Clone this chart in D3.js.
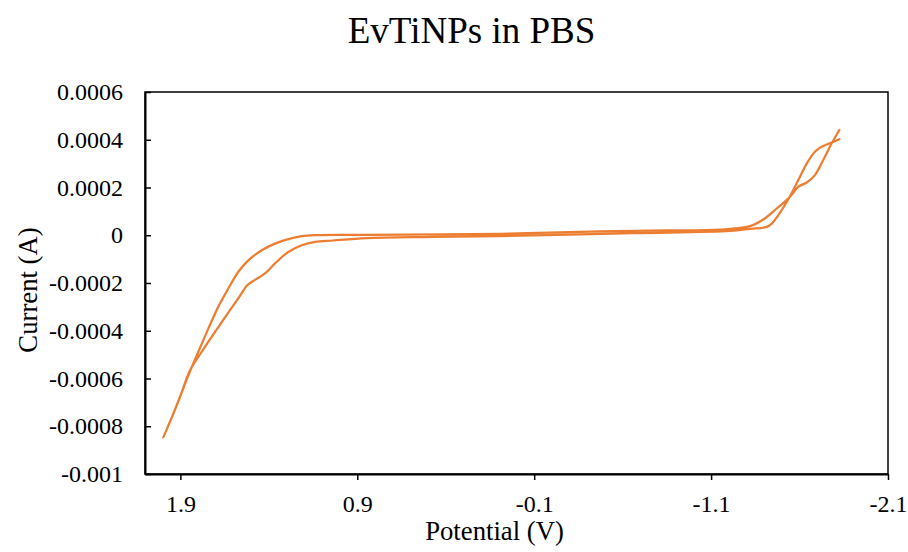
<!DOCTYPE html>
<html>
<head>
<meta charset="utf-8">
<script src="https://cdn.jsdelivr.net/npm/d3@7"></script>
<style>
  body { margin: 0; background: #fff; }
  svg text { font-family: "Liberation Serif", "Times New Roman", serif; fill: #000; }
</style>
</head>
<body>
<svg id="cv" width="908" height="552"></svg>
<script>
// one CV cycle (V, A), in scan order
const potential = [
  -1.825, -1.772, -1.725, -1.687, -1.641, -1.593, -1.542, -1.480, -1.443, -1.414, -1.320, -1.207,
  -0.659, -0.093, 0.472, 0.847, 1.037,
  1.139, 1.214, 1.290, 1.365, 1.422, 1.478, 1.500, 1.525, 1.563, 1.629, 1.704, 1.780, 1.846, 1.902, 1.940, 1.997,
  1.937, 1.897, 1.855, 1.799, 1.742, 1.686, 1.629, 1.573, 1.516, 1.440, 1.365, 1.290, 1.214, 1.139,
  0.847, 0.093, -0.472, -0.849, -1.150,
  -1.320, -1.395, -1.471, -1.542, -1.593, -1.641, -1.687, -1.734, -1.782, -1.825
];
const current = [
  0.000402, 0.000385, 0.000371, 0.000350, 0.000301, 0.000231, 0.000158, 0.000084, 0.000049, 0.000035, 0.000027, 0.000018,
  0.0000086, -0.000001, -0.000007, -0.0000123, -0.000022,
  -0.000028, -0.000042, -0.000070, -0.000118, -0.000160, -0.000187, -0.000197, -0.000212, -0.000254, -0.000324, -0.000405, -0.000489, -0.000566, -0.000678, -0.000748, -0.000848,
  -0.000742, -0.000667, -0.000587, -0.000489, -0.000391, -0.000300, -0.000223, -0.000154, -0.000105, -0.000063, -0.000035, -0.0000165, -0.000004, 0.0000003,
  0.0000015, 0.0000057, 0.0000158, 0.000020, 0.0000233,
  0.000038, 0.000066, 0.000112, 0.000158, 0.000203, 0.000221, 0.000252, 0.000315, 0.000385, 0.000441
];

const xTicks = [1.9, 0.9, -0.1, -1.1, -2.1];
const yTicks = [0.0006, 0.0004, 0.0002, 0, -0.0002, -0.0004, -0.0006, -0.0008, -0.001];

const svg = d3.select("#cv");
const plotL = 145, plotR = 888, plotT = 92, plotB = 474;
const serif = "'Liberation Serif', 'Times New Roman', serif";

// x runs backwards, like the Excel sheet
const x = d3.scaleLinear().domain([2.1, -2.1]).range([plotL, plotR]);
const y = d3.scaleLinear().domain([-0.001, 0.0006]).range([plotB, plotT]);

const fmt = d => String(+d.toFixed(4));

// frame
svg.append("rect")
  .attr("x", plotL).attr("y", plotT)
  .attr("width", plotR - plotL).attr("height", plotB - plotT)
  .attr("fill", "none").attr("stroke", "#000").attr("stroke-width", 1.5);

// axes
const yAxis = svg.append("g")
  .attr("transform", `translate(${plotL},0)`)
  .call(d3.axisLeft(y).tickValues(yTicks).tickFormat(fmt)
    .tickSizeInner(-6).tickSizeOuter(0).tickPadding(22));

const xAxis = svg.append("g")
  .attr("transform", `translate(0,${plotB})`)
  .call(d3.axisBottom(x).tickValues(xTicks).tickFormat(fmt)
    .tickSizeInner(6).tickSizeOuter(0).tickPadding(15));

[xAxis, yAxis].forEach(a => {
  a.attr("font-family", null).attr("font-size", null);
  a.select(".domain").attr("stroke", "#000").attr("stroke-width", 2);
  a.selectAll(".tick line").attr("stroke", "#000").attr("stroke-width", 1.5);
  a.selectAll(".tick text")
    .style("font-family", serif)
    .style("font-size", "24px")
    .attr("fill", "#000");
});

// curve
const pts = potential.map((v, i) => [v, current[i]]);
const line = d3.line()
  .x(d => x(d[0]))
  .y(d => y(d[1]))
  .curve(d3.curveCatmullRom.alpha(0.5));

svg.append("path")
  .datum(pts)
  .attr("d", line)
  .attr("fill", "none")
  .attr("stroke", "#ED7D31")
  .attr("stroke-width", 2.25)
  .attr("stroke-linejoin", "round")
  .attr("stroke-linecap", "round");

// titles
svg.append("text")
  .attr("x", 471.5).attr("y", 43)
  .attr("text-anchor", "middle")
  .style("font-size", "37px")
  .text("EvTiNPs in PBS");

svg.append("text")
  .attr("x", 494.5).attr("y", 539.5)
  .attr("text-anchor", "middle")
  .style("font-size", "26.7px")
  .text("Potential (V)");

svg.append("text")
  .attr("transform", "translate(37,290) rotate(-90)")
  .attr("text-anchor", "middle")
  .style("font-size", "26.7px")
  .text("Current (A)");
</script>
</body>
</html>
